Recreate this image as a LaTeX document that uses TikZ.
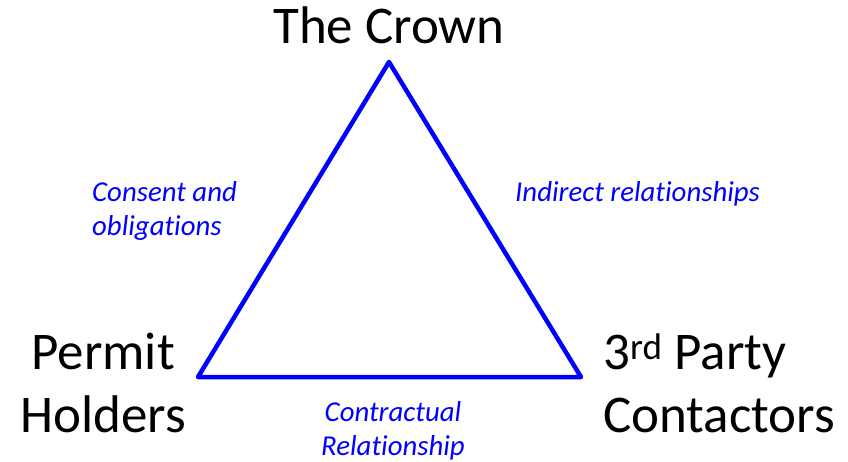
\documentclass[tikz,border=0pt]{standalone}
\usepackage{fontspec}
\setmainfont{Carlito}[Ligatures=NoCommon]
\definecolor{lineblue}{RGB}{0,0,255}
\tikzset{
  vertexlabel/.style={font=\fontsize{53}{63}\selectfont, text=black, inner sep=0pt, anchor=base},
  edgelabel/.style={font=\fontsize{28.8}{34}\selectfont\itshape, text=lineblue, inner sep=0pt, anchor=base},
  side/.style={draw=lineblue, line width=4.5pt, line join=round, line cap=round}
}
\begin{document}
\begin{tikzpicture}[x=1pt,y=-1pt]
\useasboundingbox (0,0) rectangle (848,461);
\coordinate (top) at (389,62);
\coordinate (bl) at (198,377);
\coordinate (br) at (581,377);
\draw[side] (top) -- (br) -- (bl) -- cycle;
\node[vertexlabel] (crown) at (389,43) {The Crown};
\node[vertexlabel, align=center] (permit) at (103,432) {Permit\\Holders};
\node[vertexlabel, align=left, anchor=base west] (third) at (603,432) {3\textsuperscript{rd} Party\\Contactors};
\node[edgelabel, align=left, anchor=base west] (consent) at (92,235) {Consent and\\obligations};
\node[edgelabel, anchor=base west] (indirect) at (515,201) {Indirect relationships};
\node[edgelabel, align=center] (contract) at (393,455) {Contractual\\Relationship};
\end{tikzpicture}
\end{document}
